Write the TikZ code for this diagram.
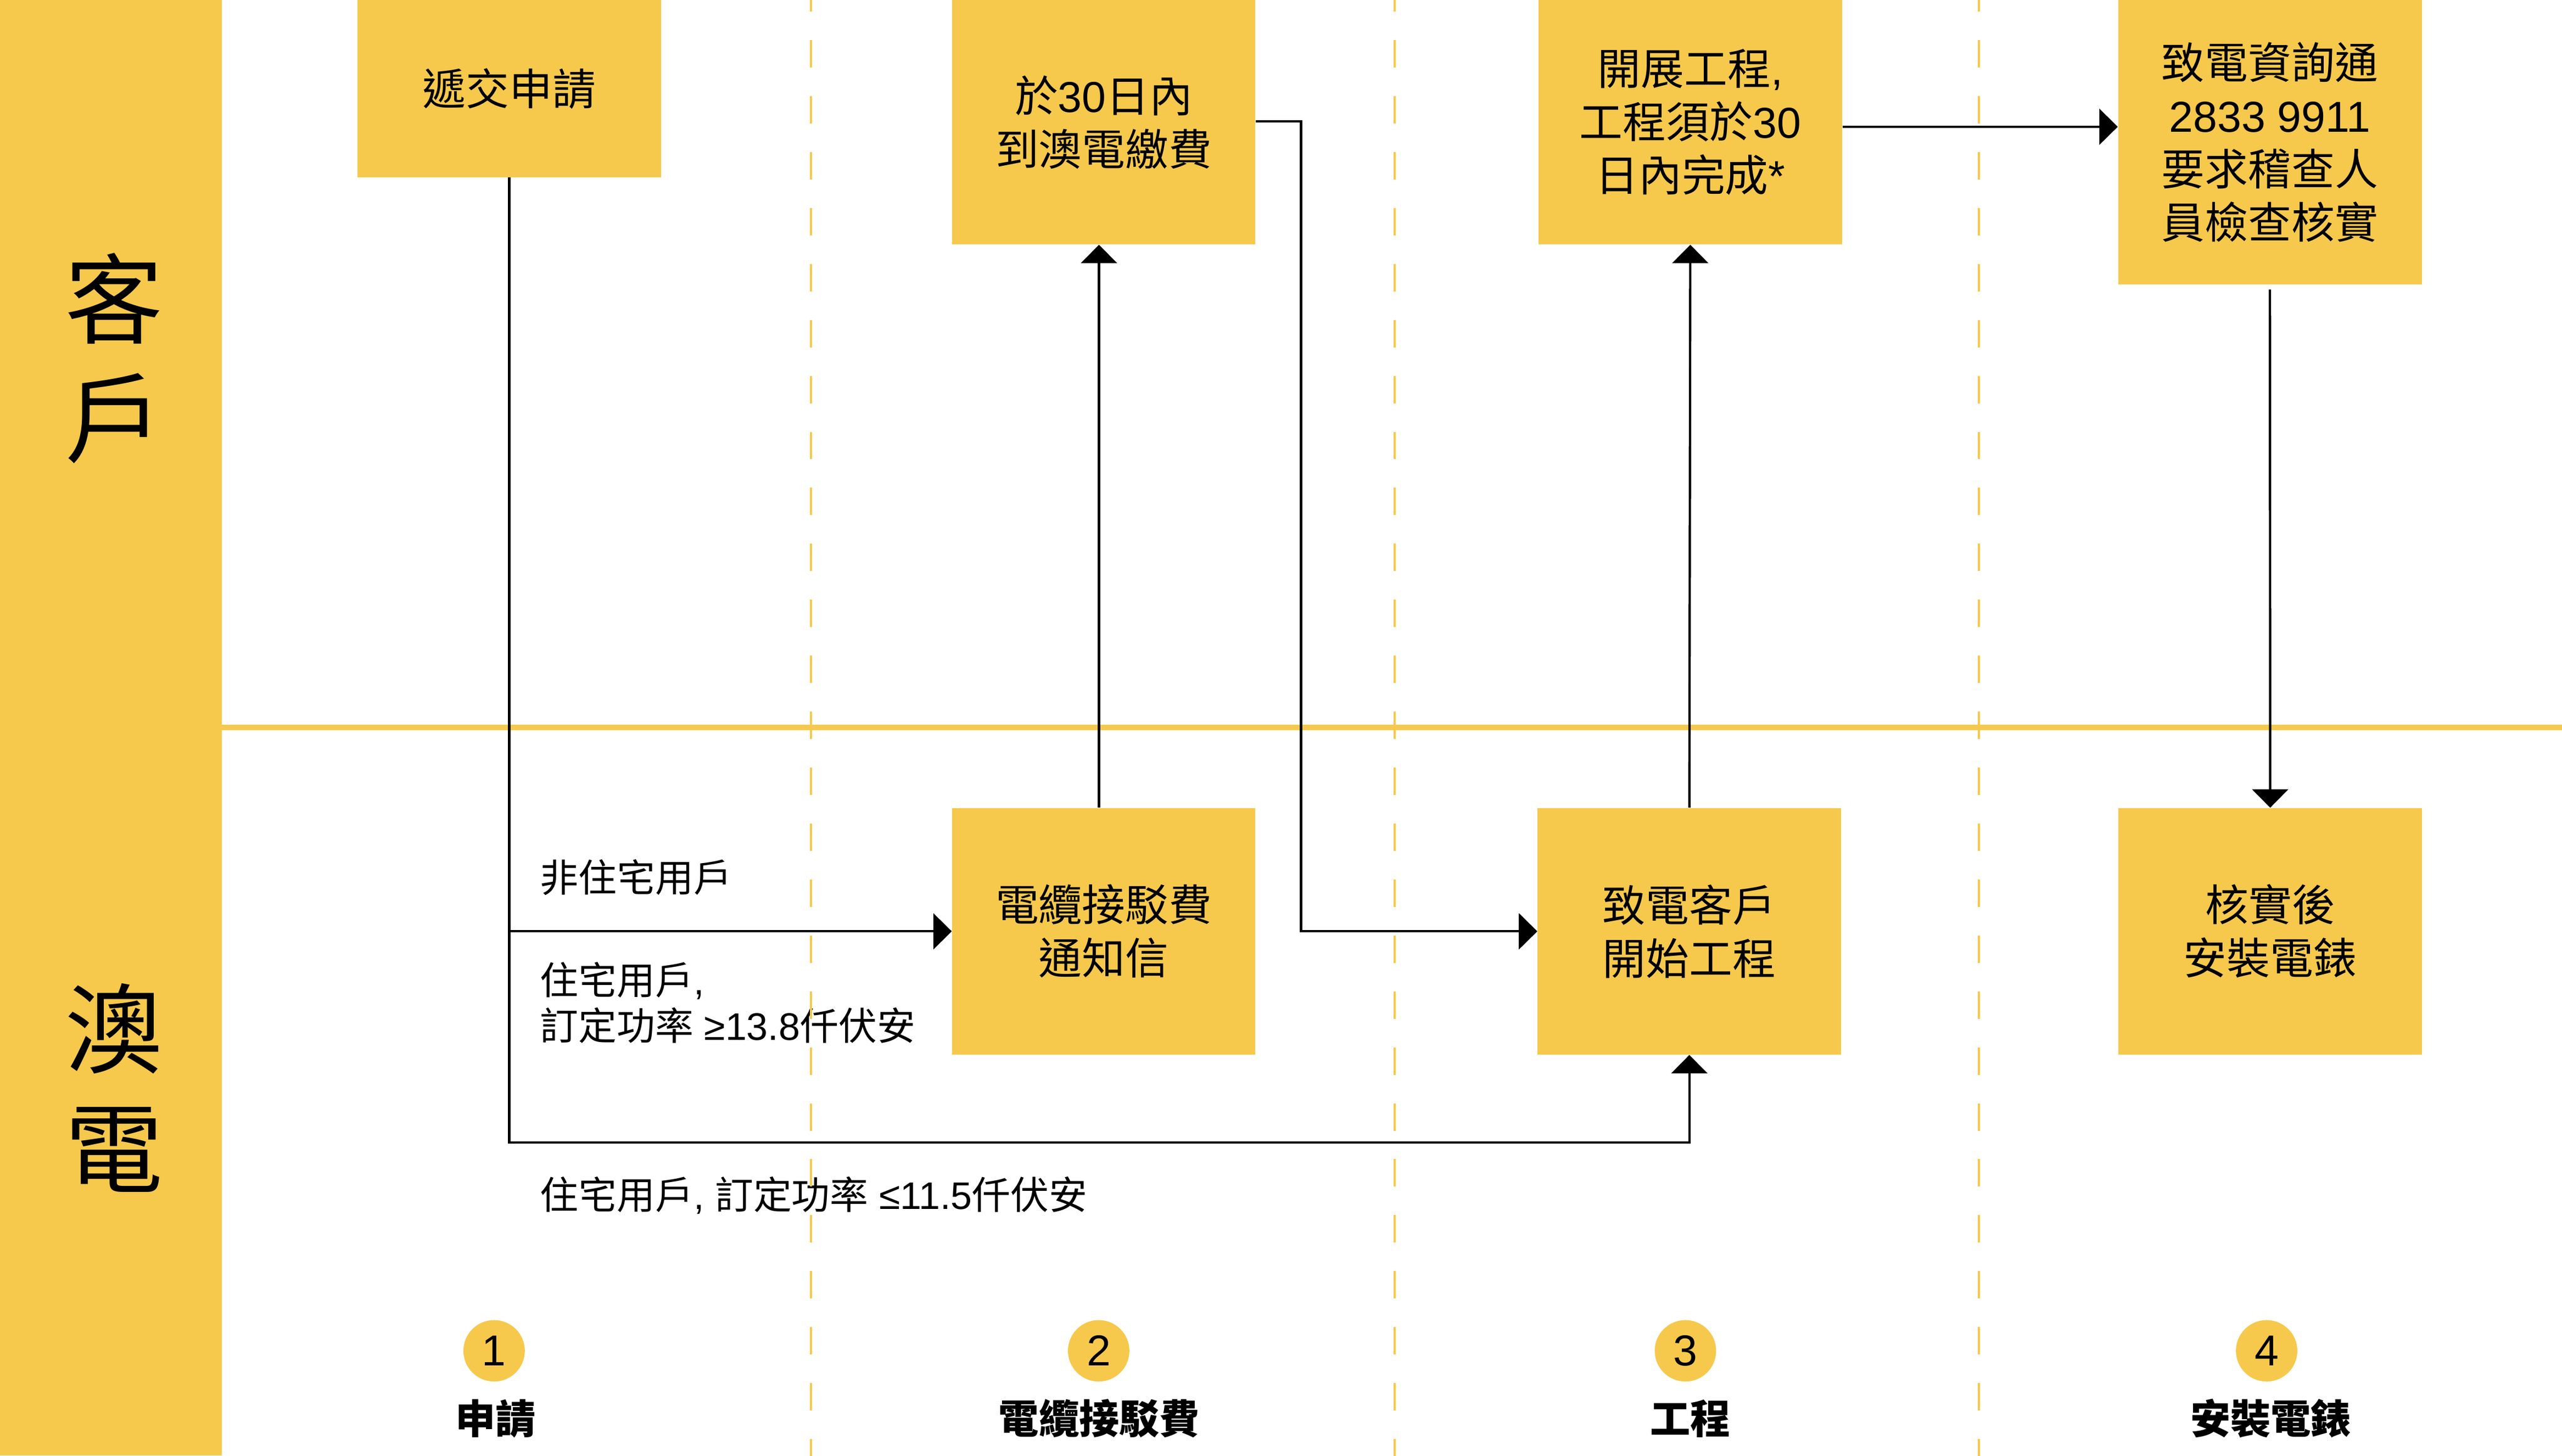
\documentclass[tikz,border=0pt]{standalone}
\usepackage{fontspec}
\setmainfont{Noto Sans CJK TC}
\newfontfamily\lat{Liberation Sans}
\usetikzlibrary{arrows.meta}
\definecolor{ay}{RGB}{246,201,76}
\tikzset{
  lanebox/.style={fill=ay, inner sep=0pt, align=center, font=\fontsize{26.5}{32.6}\selectfont},
  conn/.style={line width=1.4pt, -{Triangle[length=11.3pt,width=22pt]}},
  elabel/.style={anchor=west, inner sep=0pt, align=left, font=\fontsize{23.5}{28}\selectfont},
  stepnum/.style={circle, fill=ay, minimum size=37.6pt, inner sep=0pt, font=\lat\fontsize{26.5}{30}\selectfont},
  steplabel/.style={inner sep=0pt, font=\bfseries\fontsize{24.6}{28}\selectfont},
  lanetitle/.style={align=center, inner sep=0pt, font=\fontsize{60}{73}\selectfont},
  divider/.style={ay, line width=1.4pt, dash pattern=on 16.8pt off 17.45pt},
}
\begin{document}
\begin{tikzpicture}[x=1pt,y=-1pt]
\useasboundingbox (0,0) rectangle (1568,891);
% lane band and separator
\fill[ay] (0,0) rectangle (135.7,891);
\draw[ay, line width=3.5pt] (135.7,445.2) -- (1568,445.2);
\node[lanetitle] (tc) at (69.7,219.2) {客\\戶};
\node[lanetitle] (tm) at (69.7,665.8) {澳\\電};

% boxes
\node[lanebox, minimum width=185.8pt, minimum height=108.5pt] (b1) at (311.7,54.25) {遞交申請};
\node[lanebox, minimum width=185.5pt, minimum height=149.6pt] (b2) at (675.5,74.8) {於{\lat 30}日內\\到澳電繳費};
\node[lanebox, minimum width=185.8pt, minimum height=149.6pt] (b3) at (1034.5,74.8) {開展工程{\lat ,}\\工程須於{\lat 30}\\日內完成{\lat *}};
\node[lanebox, minimum width=185.9pt, minimum height=174pt] (b4) at (1389.25,87) {致電資詢通\\{\lat 2833 9911}\\要求稽查人\\員檢查核實};
\node[lanebox, minimum width=185.6pt, minimum height=150.9pt] (b5) at (675.5,570.05) {電纜接駁費\\通知信};
\node[lanebox, minimum width=185.7pt, minimum height=150.9pt] (b6) at (1033.9,570.05) {致電客戶\\開始工程};
\node[lanebox, minimum width=185.8pt, minimum height=150.9pt] (b7) at (1389.4,570.05) {核實後\\安裝電錶};

% edge labels
\node[elabel] (l1) at (330.3,537) {非住宅用戶};
\node[elabel] (l2) at (330.3,613.7) {住宅用戶{\lat ,}\\訂定功率{\lat\ ≥13.8}仟伏安};
\node[elabel] (l3) at (330.3,731.8) {住宅用戶{\lat ,\ }訂定功率{\lat\ ≤11.5}仟伏安};

% step markers
\node[stepnum] (s1) at (302.4,826.8) {1};
\node[stepnum] (s2) at (672.4,826.8) {2};
\node[stepnum] (s3) at (1031.5,826.8) {3};
\node[stepnum] (s4) at (1387.2,826.8) {4};
\node[steplabel] (t1) at (303.4,868.2) {申請};
\node[steplabel] (t2) at (672.7,868.2) {電纜接駁費};
\node[steplabel] (t3) at (1034.5,868.2) {工程};
\node[steplabel] (t4) at (1389.7,868.2) {安裝電錶};

% dividers
\foreach \x in {496.4,853.5,1211} \draw[divider] (\x,-9.7) -- (\x,900);

% connectors
\coordinate (lowy) at (0,699.4);
\draw[conn] (b1.south) |- (b6.south |- lowy) -- (b6.south);
\draw[conn] (b1.south |- b5.west) -- (b5.west);
\draw[conn] ([xshift=-2.9pt]b5.north) -- ([xshift=-2.9pt]b2.south);
\draw[conn] ([yshift=0.6pt]b2.east) -- ++(27.8,0) |- (b6.west);
\draw[conn] (b6.north) -- (b3.south);
\draw[conn] ([yshift=-2.8pt]b3.east) coordinate (t3e) -- (t3e -| b4.west);
\draw[conn, shorten <=3pt] (b4.south) -- (b7.north);
\end{tikzpicture}
\end{document}
